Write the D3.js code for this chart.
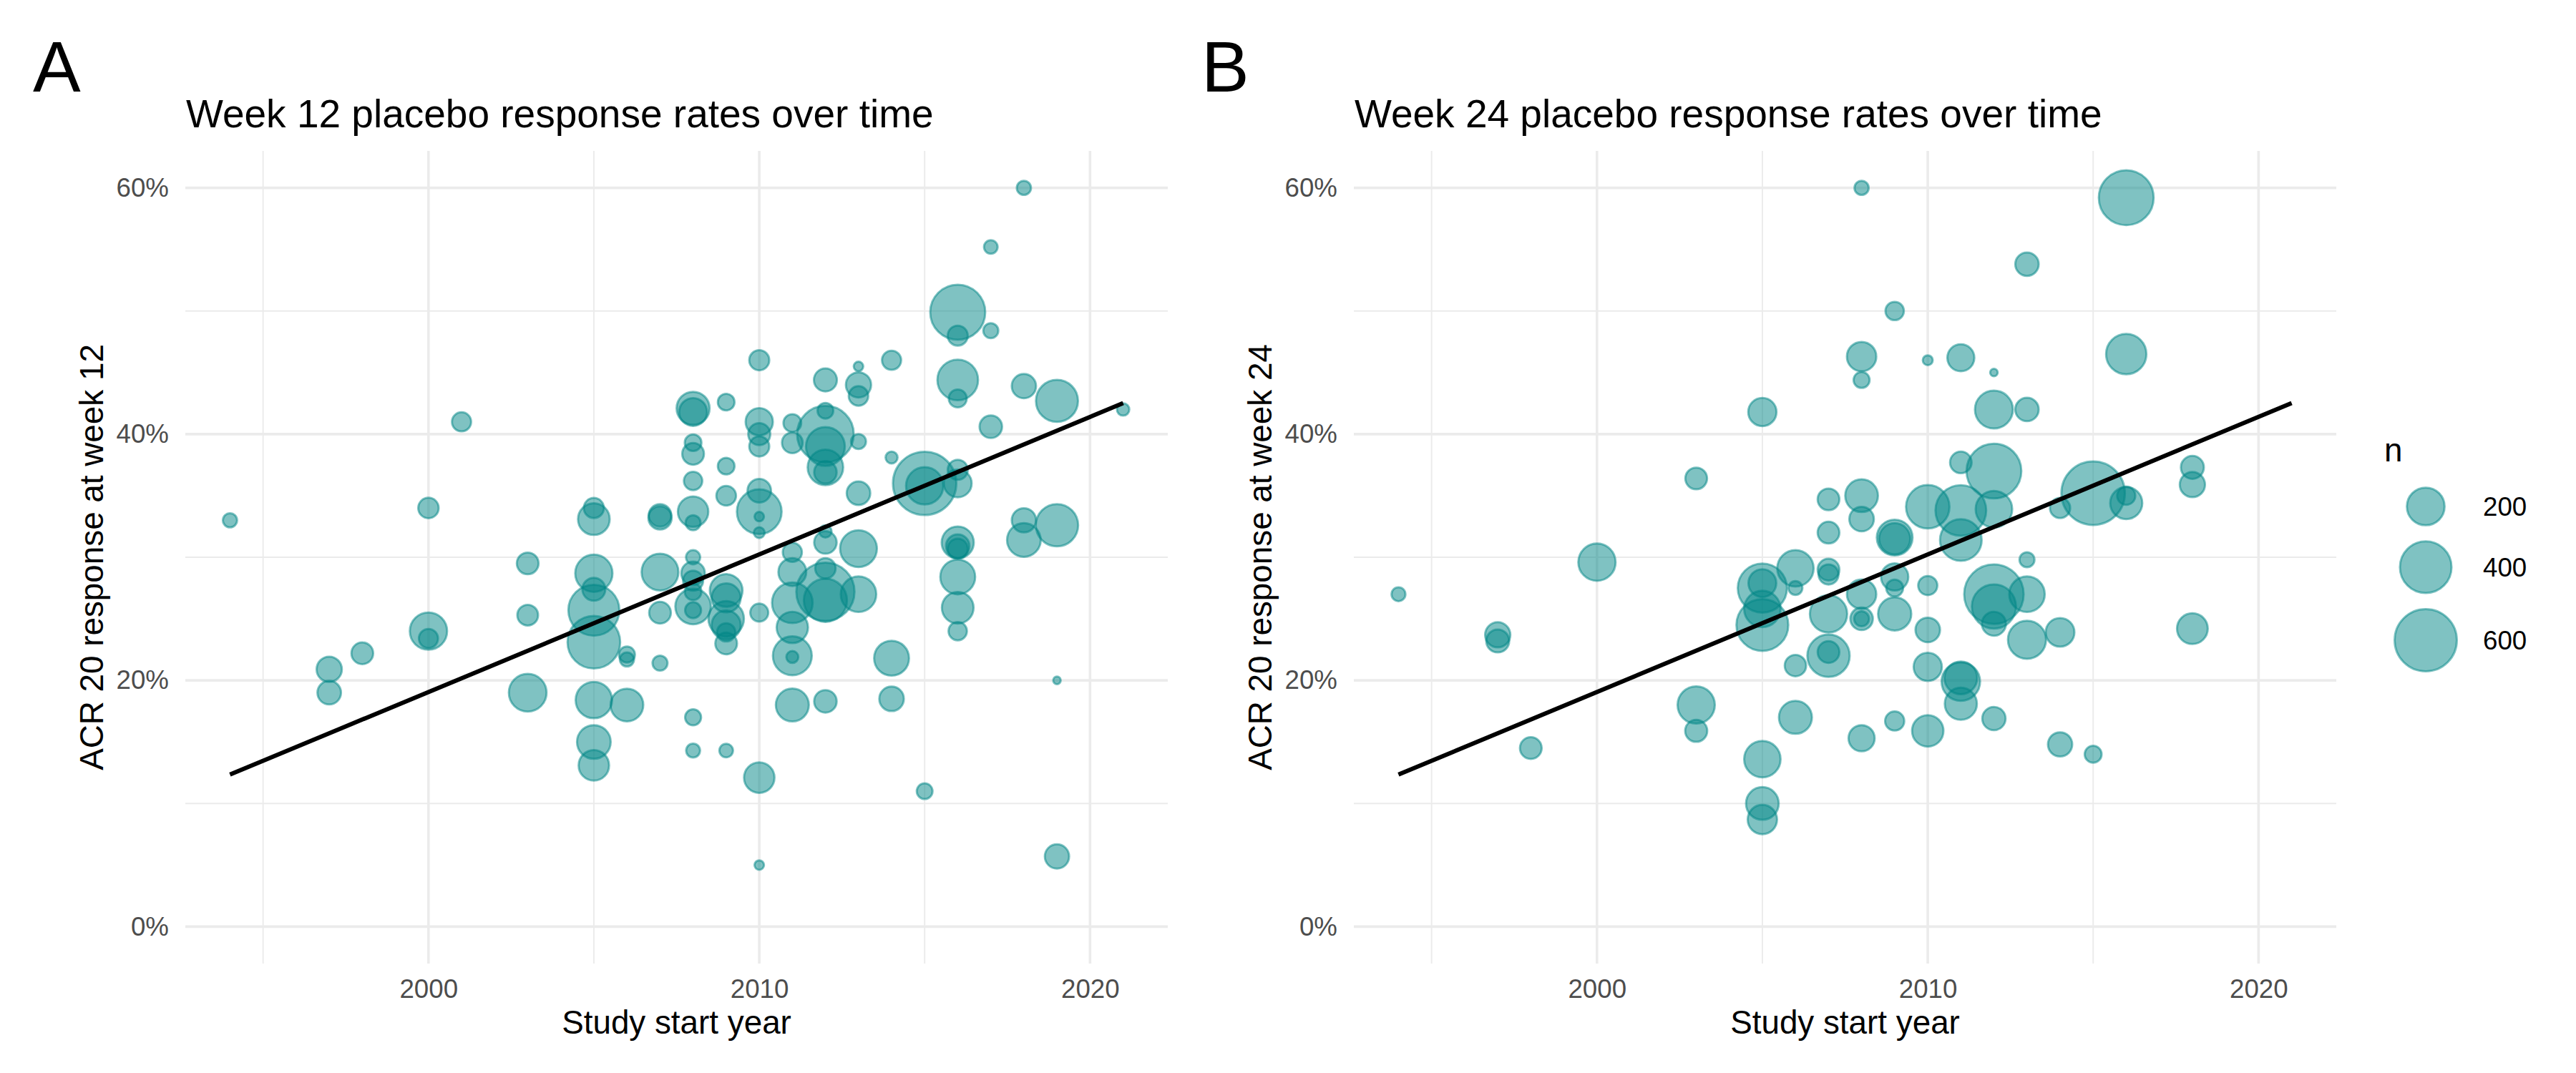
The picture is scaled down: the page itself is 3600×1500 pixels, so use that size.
<!DOCTYPE html>
<html><head><meta charset="utf-8">
<script src="https://cdn.jsdelivr.net/npm/d3@7/dist/d3.min.js"></script>
<style>
body{margin:0;background:#fff;}
text{font-family:"Liberation Sans", Arial, Helvetica, sans-serif;}
</style>
</head><body>
<svg id="chart" width="3600" height="1500"></svg>
<script>
// ---------- DATA ----------
const yearsA = [1994,1997,1997,1998,2000,2000,2000,2001,2003,2003,2003,
 2005,2005,2005,2005,2005,2005,2005,2005,2005,
 2006,2006,2006,
 2007,2007,2007,2007,2007,
 2008,2008,2008,2008,2008,2008,2008,2008,2008,2008,2008,2008,2008,2008,2008,
 2009,2009,2009,2009,2009,2009,2009,2009,2009,2009,
 2010,2010,2010,2010,2010,2010,2010,2010,2010,2010,2010,
 2011,2011,2011,2011,2011,2011,2011,2011,2011,
 2012,2012,2012,2012,2012,2012,2012,2012,2012,2012,2012,2012,
 2013,2013,2013,2013,2013,2013,2013,
 2014,2014,2014,2014,
 2015,2015,2015,
 2016,2016,2016,2016,2016,2016,2016,2016,2016,2016,2016,2016,
 2017,2017,2017,
 2018,2018,2018,2018,
 2019,2019,2019,2019,
 2021];
const ratesA = [0.330,0.209,0.190,0.222,0.340,0.240,0.234,0.410,0.295,0.253,0.190,
 0.340,0.331,0.287,0.274,0.257,0.231,0.184,0.150,0.131,
 0.221,0.217,0.180,
 0.334,0.332,0.288,0.255,0.214,
 0.421,0.418,0.393,0.384,0.362,0.337,0.328,0.300,0.287,0.281,0.272,0.260,0.257,0.170,0.143,
 0.426,0.374,0.350,0.273,0.267,0.250,0.245,0.239,0.230,0.143,
 0.460,0.410,0.400,0.390,0.354,0.337,0.333,0.320,0.255,0.121,0.050,
 0.409,0.393,0.304,0.288,0.263,0.243,0.220,0.219,0.180,
 0.444,0.419,0.400,0.390,0.373,0.369,0.321,0.312,0.291,0.272,0.265,0.183,
 0.455,0.440,0.431,0.394,0.352,0.307,0.270,
 0.460,0.381,0.218,0.185,
 0.360,0.358,0.110,
 0.499,0.480,0.444,0.429,0.371,0.360,0.312,0.309,0.307,0.284,0.259,0.240,
 0.552,0.484,0.406,
 0.600,0.439,0.330,0.314,
 0.427,0.326,0.200,0.057,
 0.420];
const nA = [18,79,67,55,47,195,40,40,55,49,200,
 45,135,195,63,390,418,185,155,123,
 25,18,145,
 60,65,190,55,21,
 148,100,28,55,36,123,21,18,67,45,28,175,25,25,17,
 28,28,43,145,110,175,110,36,55,16,
 45,95,57,45,67,293,5,8,34,123,5,
 33,49,40,100,237,132,215,11,148,
 63,24,490,215,175,60,12,60,47,520,270,60,
 5,79,42,21,67,190,175,
 40,11,168,74,
 625,195,24,
 460,45,237,34,45,100,139,67,45,168,135,36,
 16,21,60,
 18,72,72,155,
 255,259,2,72,
 12];

const yearsB = [1994,1997,1997,1998,2000,2003,2003,2003,
 2005,2005,2005,2005,2005,2005,2005,2005,
 2006,2006,2006,2006,
 2007,2007,2007,2007,2007,2007,2007,
 2008,2008,2008,2008,2008,2008,2008,2008,2008,
 2009,2009,2009,2009,2009,2009,2009,
 2010,2010,2010,2010,2010,2010,
 2011,2011,2011,2011,2011,2011,2011,
 2012,2012,2012,2012,2012,2012,2012,2012,
 2013,2013,2013,2013,2013,
 2014,2014,2014,
 2015,2015,
 2016,2016,2016,2016,
 2018,2018,2018];
const ratesB = [0.270,0.237,0.232,0.145,0.296,0.364,0.180,0.159,
 0.418,0.279,0.275,0.258,0.245,0.136,0.100,0.087,
 0.291,0.275,0.212,0.170,
 0.347,0.320,0.290,0.286,0.254,0.223,0.220,
 0.600,0.463,0.444,0.350,0.331,0.270,0.250,0.250,0.153,
 0.500,0.316,0.315,0.284,0.275,0.254,0.167,
 0.460,0.341,0.277,0.241,0.211,0.159,
 0.462,0.377,0.338,0.314,0.202,0.199,0.181,
 0.450,0.420,0.370,0.339,0.270,0.260,0.246,0.169,
 0.538,0.420,0.298,0.270,0.233,
 0.340,0.239,0.148,
 0.352,0.140,
 0.592,0.465,0.350,0.344,
 0.373,0.359,0.242];
const nB = [17,79,63,55,195,55,195,57,
 103,100,361,185,405,185,145,113,
 185,17,53,148,
 55,55,55,45,195,55,259,
 18,113,25,145,74,113,60,21,86,
 36,178,130,95,29,150,40,
 6,275,40,74,103,132,
 93,54,386,250,145,210,139,
 2,203,457,187,545,285,70,65,
 66,66,21,175,205,
 46,107,72,
 627,29,
 457,232,35,139,
 63,79,126];

// fitted trend (same in both panels)
const trendYears = [1994, 2021];
const trendRates = [0.1235, 0.4252];

const xLimits = [1994, 2021];
const yLimits = [0, 0.6];
const xMajorTicks = [2000, 2010, 2020];
const xMinorTicks = [1995, 2005, 2015];
const yMajorTicks = [0, 0.2, 0.4, 0.6];
const yMinorTicks = [0.1, 0.3, 0.5];
const legendN = [200, 400, 600];

const panelTags = ["A", "B"];
const panelTitles = ["Week 12 placebo response rates over time", "Week 24 placebo response rates over time"];
const yTitles = ["ACR 20 response at week 12", "ACR 20 response at week 24"];
const xTitle = "Study start year";

// ---------- LAYOUT / STYLE ----------
const svg = d3.select("#chart");
const panelW = 1373, panelTop = 211, panelBottom = 1347;
const panelLefts = [259, 1892];
const pointColor = "#008585";
const gridColor = "#EBEBEB";

function expand(lim) { const s = (lim[1] - lim[0]) * 0.05; return [lim[0] - s, lim[1] + s]; }

// size: diameter linear in sqrt(n)
const diam = d3.scaleLinear().domain([Math.sqrt(200), Math.sqrt(600)]).range([55.7, 90]);
const strokeW = 3;
const rOf = n => Math.max(1, diam(Math.sqrt(n)) / 2 - strokeW / 2);

const datasets = [
  d3.range(yearsA.length).map(i => ({ year: yearsA[i], rate: ratesA[i], n: nA[i] })),
  d3.range(yearsB.length).map(i => ({ year: yearsB[i], rate: ratesB[i], n: nB[i] }))
];

datasets.forEach((data, pi) => {
  const left = panelLefts[pi];
  const x = d3.scaleLinear().domain(expand(xLimits)).range([left, left + panelW]);
  const y = d3.scaleLinear().domain(expand(yLimits)).range([panelBottom, panelTop]);
  const g = svg.append("g");

  // grid
  g.selectAll(".xmin").data(xMinorTicks).join("line")
    .attr("x1", d => x(d)).attr("x2", d => x(d)).attr("y1", panelTop).attr("y2", panelBottom)
    .attr("stroke", gridColor).attr("stroke-width", 1.9);
  g.selectAll(".ymin").data(yMinorTicks).join("line")
    .attr("y1", d => y(d)).attr("y2", d => y(d)).attr("x1", left).attr("x2", left + panelW)
    .attr("stroke", gridColor).attr("stroke-width", 1.9);
  g.selectAll(".xmaj").data(xMajorTicks).join("line")
    .attr("x1", d => x(d)).attr("x2", d => x(d)).attr("y1", panelTop).attr("y2", panelBottom)
    .attr("stroke", gridColor).attr("stroke-width", 3.6);
  g.selectAll(".ymaj").data(yMajorTicks).join("line")
    .attr("y1", d => y(d)).attr("y2", d => y(d)).attr("x1", left).attr("x2", left + panelW)
    .attr("stroke", gridColor).attr("stroke-width", 3.6);

  // points
  g.append("g").selectAll("circle").data(data).join("circle")
    .attr("cx", d => x(d.year)).attr("cy", d => y(d.rate)).attr("r", d => rOf(d.n))
    .attr("fill", pointColor).attr("fill-opacity", 0.5)
    .attr("stroke", pointColor).attr("stroke-opacity", 0.5).attr("stroke-width", strokeW);

  // trend line
  const line = d3.line().x(d => x(d[0])).y(d => y(d[1]));
  g.append("path").datum(trendYears.map((yr, i) => [yr, trendRates[i]]))
    .attr("d", line).attr("fill", "none").attr("stroke", "#000").attr("stroke-width", 6);

  // axes
  const xAxis = g.append("g").attr("transform", `translate(0,${panelBottom})`)
    .call(d3.axisBottom(x).tickValues(xMajorTicks).tickFormat(d3.format("d")).tickSize(0).tickPadding(22));
  const yAxis = g.append("g").attr("transform", `translate(${left},0)`)
    .call(d3.axisLeft(y).tickValues(yMajorTicks).tickFormat(d3.format(".0%")).tickSize(0).tickPadding(23));
  [xAxis, yAxis].forEach(a => {
    a.select(".domain").remove();
    a.selectAll("text").attr("font-size", 36.7).attr("fill", "#4D4D4D")
      .attr("font-family", '"Liberation Sans", Arial, Helvetica, sans-serif');
  });

  // titles
  g.append("text").attr("x", left - 213).attr("y", 128).attr("font-size", 100).attr("fill", "#000").text(panelTags[pi]);
  g.append("text").attr("x", left + 1).attr("y", 178).attr("font-size", 55).attr("fill", "#000").text(panelTitles[pi]);
  g.append("text").attr("x", left + panelW / 2).attr("y", 1445).attr("text-anchor", "middle")
    .attr("font-size", 45.8).attr("fill", "#000").text(xTitle);
  g.append("text").attr("transform", `translate(${left - 115},${(panelTop + panelBottom) / 2}) rotate(-90)`)
    .attr("text-anchor", "middle").attr("font-size", 45.8).attr("fill", "#000").text(yTitles[pi]);
});

// legend
const lg = svg.append("g");
lg.append("text").attr("x", 3332).attr("y", 645).attr("font-size", 45.8).attr("fill", "#000").text("n");
let cy = 708 - (diam(Math.sqrt(legendN[0])) + 19.5) / 2;
legendN.forEach(n => {
  const h = diam(Math.sqrt(n)) + 19.5;
  const c = cy + h / 2;
  lg.append("circle").attr("cx", 3390).attr("cy", c).attr("r", rOf(n))
    .attr("fill", pointColor).attr("fill-opacity", 0.5)
    .attr("stroke", pointColor).attr("stroke-opacity", 0.5).attr("stroke-width", strokeW);
  lg.append("text").attr("x", 3470).attr("y", c).attr("dy", "0.35em")
    .attr("font-size", 36.7).attr("fill", "#000").text(n);
  cy += h;
});
</script>
</body></html>
